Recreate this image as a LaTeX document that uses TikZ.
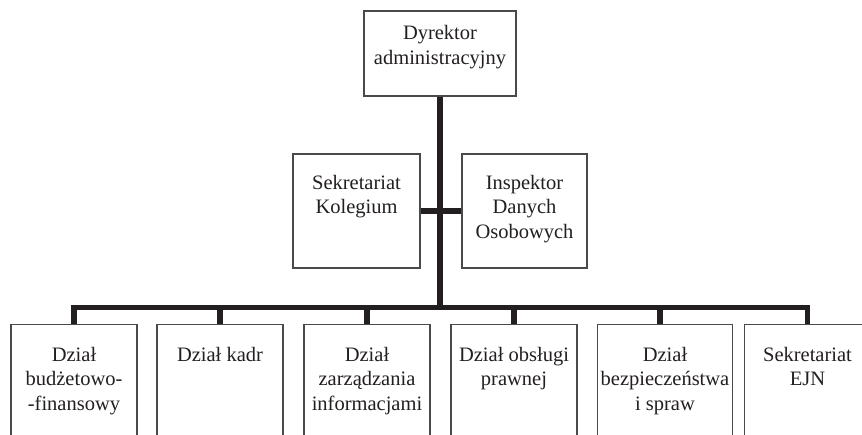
\documentclass[tikz,border=0pt]{standalone}
\usepackage{fontspec}
\setmainfont{Liberation Serif}
\usetikzlibrary{positioning}
\definecolor{ink}{HTML}{231F20}
\definecolor{rim}{HTML}{4A4A4A}

\begin{document}
\begin{tikzpicture}[x=1pt,y=-1pt,
  box/.style={draw=rim,line width=1.1pt,minimum width=126pt,minimum height=130pt,inner sep=0pt},
  txt/.style={align=center,inner sep=0pt,text=ink,font=\fontsize{20.5}{24.5}\selectfont},
  bar/.style={draw=ink,line width=5.6pt}]
\useasboundingbox (0,0) rectangle (862,435);
\clip (0,0) rectangle (862,435);

\node[box,minimum width=152pt,minimum height=85pt] (dyr) at (440,53.5) {};
\node[box,minimum width=127pt,minimum height=114pt] (sek) at (356.5,211) {};
\node[box,minimum width=125pt,minimum height=114pt] (ins) at (524.5,211) {};

\node[box] (b1) at (74,389.5) {};
\node[box] (b2) at (220,389.5) {};
\node[box] (b3) at (367,389.5) {};
\node[box] (b4) at (514,389.5) {};
\node[box,minimum width=135pt] (b5) at (665,389.5) {};
\node[box] (b6) at (807.5,389.5) {};

\node[txt,below=15pt of dyr.north] (dyrt) {Dyrektor\\administracyjny};
\node[txt,below=21.5pt of sek.north] (sekt) {Sekretariat\\Kolegium};
\node[txt,below=21.5pt of ins.north] (inst) {Inspektor\\Danych\\Osobowych};
\node[txt,below=23pt of b1.north] (b1t) {Dział\\budżetowo-\\-finansowy};
\node[txt,below=23pt of b2.north] (b2t) {Dział kadr};
\node[txt,below=23pt of b3.north] (b3t) {Dział\\zarządzania\\informacjami};
\node[txt,below=23pt of b4.north] (b4t) {Dział obsługi\\prawnej};
\node[txt,below=23pt of b5.north] (b5t) {Dział\\bezpieczeństwa\\i spraw};
\node[txt,below=23pt of b6.north] (b6t) {Sekretariat\\EJN};

\coordinate (hub) at (440,307.5);

\draw[bar] (dyr.south) -- (hub);
\draw[bar] (sek.east) -- (ins.west);
\draw[bar] (b1.north) |- (hub) -| (b6.north);
\foreach \b in {b2,b3,b4}
  \draw[bar] (\b.north) -- (\b.north |- hub);
\draw[bar] ([xshift=-5pt]b5.north) -- ([xshift=-5pt]b5.north |- hub);
\end{tikzpicture}
\end{document}
